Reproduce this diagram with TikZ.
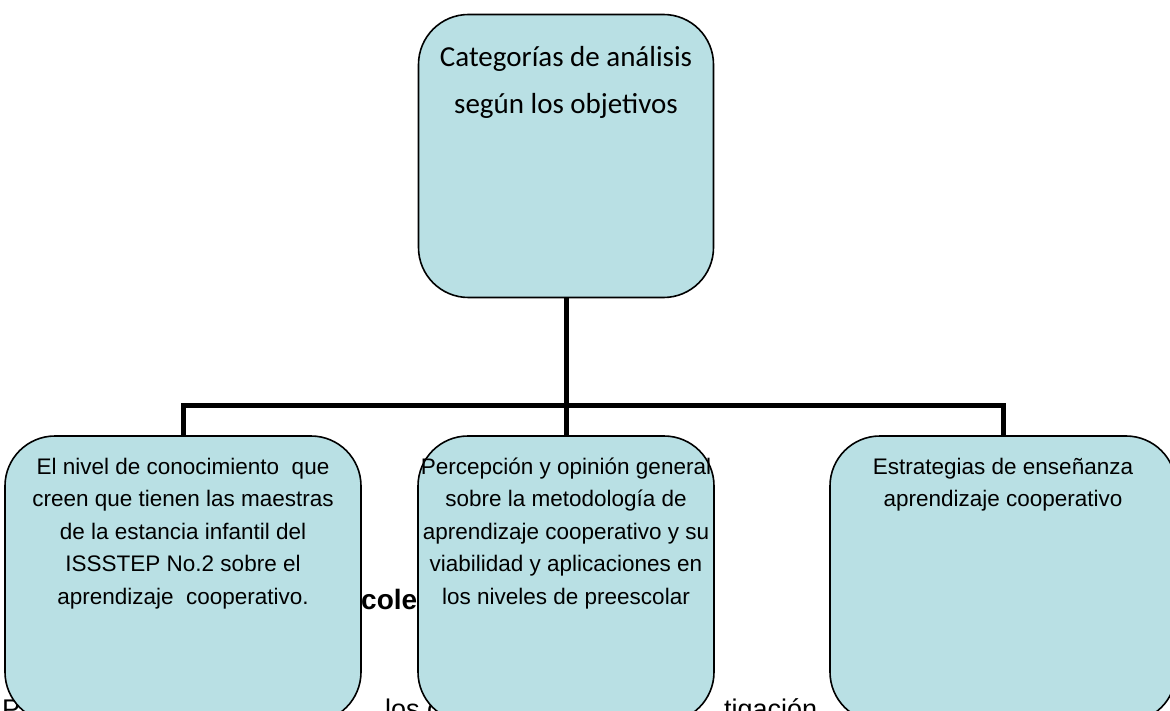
\documentclass[tikz,border=0pt]{standalone}
\usepackage{fontspec}
\setmainfont{Liberation Sans}
\newfontfamily\calibrifont{Carlito}
\usetikzlibrary{positioning}
\definecolor{boxfill}{RGB}{185,224,228}

\tikzset{
  catbox/.style={draw, line width=1.6pt, fill=boxfill, rounded corners=50pt, inner sep=0pt},
  conn/.style={line width=5pt},
  toptext/.style={align=center, inner sep=0pt, font=\calibrifont\fontsize{29}{47}\selectfont},
  subtext/.style={align=center, inner sep=0pt, font=\fontsize{22.5}{32.5}\selectfont},
  bgtext/.style={anchor=base west, inner sep=0pt, font=\fontsize{27}{27}\selectfont}
}

\begin{document}
\begin{tikzpicture}[x=1pt,y=-1pt]
\useasboundingbox (0,0) rectangle (1170,711);
\clip (0,0) rectangle (1170,711);

% Text behind the boxes
\node[bgtext, font=\bfseries\fontsize{28}{28}\selectfont] (bgcole) at (361,609) {cole};
\node[bgtext] (bgp) at (2,718) {P};
\node[bgtext] (bglos) at (385,718) {los d};
\node[bgtext] (bginv) at (724,718) {tigación};

% Draw boxes
\node[catbox, minimum width=295pt, minimum height=283pt] (topbox) at (566,156) {};
\node[catbox, minimum width=356pt, minimum height=286pt] (leftbox) at (183,579) {};
\node[catbox, minimum width=296pt, minimum height=286pt] (midbox) at (566,579) {};
\node[catbox, minimum width=346pt, minimum height=286pt] (rightbox) at (1003,579) {};

% Labels
\node[toptext, anchor=north] (toplabel) at ([yshift=-32pt]topbox.north) {Categorías de análisis\\según los objetivos};
\node[subtext, anchor=north] (leftlabel) at ([yshift=-22.5pt]leftbox.north) {El nivel de conocimiento\ \ que\\creen que tienen las maestras\\de la estancia infantil del\\ISSSTEP No.2 sobre el\\aprendizaje\ \ cooperativo.};
\node[subtext, anchor=north] (midlabel) at ([yshift=-22.5pt]midbox.north) {Percepción y opinión general\\sobre la metodología de\\aprendizaje cooperativo y su\\viabilidad y aplicaciones en\\los niveles de preescolar};
\node[subtext, anchor=north] (rightlabel) at ([yshift=-22.5pt]rightbox.north) {Estrategias de enseñanza\\aprendizaje cooperativo};

% Draw connectors
\coordinate (split) at (566,405);
\draw[conn] (topbox.south) -- (midbox.north);
\draw[conn] (leftbox.north) |- (split) -| (rightbox.north);
\end{tikzpicture}
\end{document}
